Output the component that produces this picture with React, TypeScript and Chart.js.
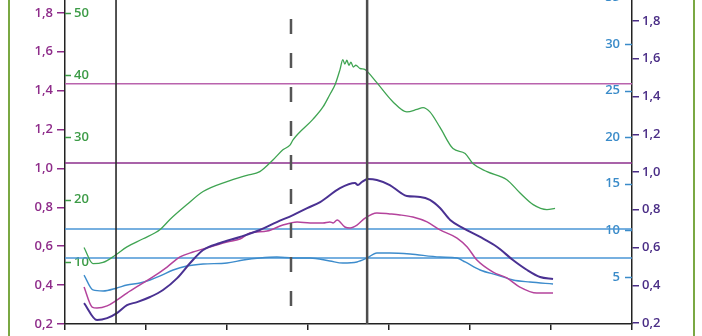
import { useEffect, useRef } from 'react';
import { Chart, registerables } from 'chart.js';
Chart.register(...registerables);

// ---- data ----
const xTicks = [0, 2, 4, 6, 8, 10, 12, 14];
const leftTicks = [0.2, 0.4, 0.6, 0.8, 1.0, 1.2, 1.4, 1.6, 1.8];
const greenTicks = [10, 20, 30, 40, 50];
const blueTicks = [5, 10, 15, 20, 25, 30, 35];
const rightTicks = [0.2, 0.4, 0.6, 0.8, 1.0, 1.2, 1.4, 1.6, 1.8];

// green series (green axis, 0..50)
const greenSeries: [number, number][] = [
  [0.47, 12.3], [0.69, 9.7], [0.94, 9.9], [1.23, 11.0], [1.53, 12.4], [1.93, 13.7],
  [2.35, 15.2], [2.59, 16.8], [3.01, 19.2], [3.41, 21.3], [4.0, 22.9], [4.49, 23.9],
  [4.81, 24.5], [5.14, 26.4], [5.38, 28.0], [5.56, 28.8], [5.63, 29.6], [6.12, 32.9],
  [6.37, 34.9], [6.54, 36.9], [6.67, 38.5], [6.79, 40.9], [6.86, 42.5], [6.91, 41.8],
  [6.96, 42.4], [7.01, 41.6], [7.06, 42.1], [7.12, 41.3], [7.18, 41.6], [7.28, 41.1],
  [7.41, 40.9], [7.48, 40.5], [7.7, 38.8], [8.1, 35.7], [8.44, 34.1], [8.69, 34.5],
  [8.84, 34.8], [9.01, 34.1], [9.26, 31.6], [9.58, 28.2], [9.88, 27.4], [10.07, 25.8],
  [10.42, 24.5], [10.91, 23.2], [11.23, 21.1], [11.56, 19.2], [11.9, 18.4], [12.1, 18.6],
];

// indigo series (right purple axis)
const indigoSeries: [number, number][] = [
  [0.47, 0.306], [0.79, 0.216], [1.04, 0.226], [1.28, 0.253], [1.53, 0.295], [1.78, 0.311],
  [2.1, 0.338], [2.42, 0.375], [2.77, 0.438], [3.09, 0.518], [3.41, 0.587], [3.83, 0.624],
  [4.32, 0.656], [4.81, 0.693], [5.23, 0.735], [5.63, 0.772], [5.98, 0.809], [6.3, 0.841],
  [6.79, 0.915], [7.16, 0.942], [7.23, 0.931], [7.33, 0.947], [7.48, 0.963], [7.7, 0.958],
  [8.02, 0.931], [8.3, 0.888], [8.44, 0.873], [8.77, 0.868], [9.01, 0.852], [9.26, 0.809],
  [9.51, 0.746], [9.83, 0.703], [10.25, 0.656], [10.67, 0.603], [11.06, 0.534],
  [11.41, 0.481], [11.73, 0.444], [12.05, 0.433],
];

// magenta series (left purple axis)
const magentaSeries: [number, number][] = [
  [0.47, 0.39], [0.67, 0.287], [0.79, 0.282], [1.04, 0.293], [1.28, 0.323], [1.53, 0.359],
  [1.85, 0.401], [2.17, 0.442], [2.52, 0.493], [2.84, 0.545], [3.16, 0.57], [3.58, 0.596],
  [4.0, 0.622], [4.32, 0.637], [4.57, 0.668], [4.99, 0.678], [5.38, 0.709], [5.73, 0.725],
  [6.05, 0.72], [6.37, 0.72], [6.54, 0.725], [6.62, 0.72], [6.72, 0.735], [6.91, 0.699],
  [7.04, 0.694], [7.21, 0.709], [7.41, 0.745], [7.7, 0.771], [8.02, 0.766], [8.27, 0.761],
  [8.59, 0.75], [8.94, 0.725], [9.26, 0.684], [9.68, 0.642], [9.93, 0.596], [10.17, 0.529],
  [10.57, 0.467], [10.91, 0.437], [11.23, 0.39], [11.65, 0.359], [12.05, 0.359],
];

// blue series (blue axis)
const blueSeries: [number, number][] = [
  [0.47, 5.21], [0.69, 3.61], [0.94, 3.5], [1.28, 3.82], [1.53, 4.14], [1.85, 4.36],
  [2.1, 4.68], [2.35, 5.11], [2.67, 5.75], [3.01, 6.18], [3.41, 6.39], [4.0, 6.5],
  [4.4, 6.82], [4.81, 7.04], [5.23, 7.14], [5.63, 7.04], [6.05, 7.04], [6.54, 6.72],
  [6.86, 6.5], [7.21, 6.61], [7.46, 7.04], [7.7, 7.58], [8.02, 7.58], [8.52, 7.47],
  [9.26, 7.14], [9.68, 7.04], [9.88, 6.61], [10.25, 5.75], [10.67, 5.21], [11.06, 4.68],
  [11.48, 4.46], [12.05, 4.25],
];

// reference lines
const refMagentaHigh = 1.435; // left axis
const refPurpleMid = 1.028; // left axis
const refBlueHigh = 10.15; // blue axis
const refBlueLow = 7.04; // blue axis
const vLineSolidA = 1.26;
const vLineDashed = 5.58;
const vLineSolidB = 7.46;

// axis ranges (chart area runs above the visible page top)
const leftMin = 0.2, leftMax = 2.072;
const greenMin = 0, greenMax = 58.52;
const blueMin = -0.043, blueMax = 39.01;
const rightMin = 0.195, rightMax = 2.123;

const C_LEFT = '#8e2c8a';
const C_RIGHT = '#4a2d86';
const C_GREEN = '#3c9b46';
const C_BLUE = '#3a8bc9';
const FONT = { family: "'Open Sans', sans-serif", size: 13, weight: 600 as any };

const pts = (s: [number, number][]) => s.map(([x, y]) => ({ x, y }));
const fmt = (v: number) => Number(v).toFixed(1).replace('.', ',');

export default function App() {
  const ref = useRef<HTMLCanvasElement>(null);
  useEffect(() => {
    const canvas = ref.current!;
    const innerTicks = {
      id: 'innerTicks',
      afterDraw(chart: any) {
        const c = chart.ctx;
        const a = chart.chartArea;
        const g = chart.scales.yG;
        const b = chart.scales.yB;
        c.save();
        c.lineWidth = 1.5;
        c.strokeStyle = C_GREEN;
        greenTicks.forEach((v) => {
          const y = Math.round(g.getPixelForValue(v)) + 0.5;
          c.beginPath();
          c.moveTo(a.left, y);
          c.lineTo(a.left + 6, y);
          c.stroke();
        });
        c.strokeStyle = C_BLUE;
        blueTicks.forEach((v) => {
          const y = Math.round(b.getPixelForValue(v)) + 0.5;
          c.beginPath();
          c.moveTo(a.right - 7, y);
          c.lineTo(a.right, y);
          c.stroke();
        });
        c.restore();
      },
    };
    const setTicks = (arr: number[]) => (s: any) => {
      s.ticks = arr.map((v) => ({ value: v }));
    };
    const chart = new Chart(canvas, {
      type: 'line',
      data: {
        datasets: [
          { data: [{ x: vLineSolidA, y: leftMax }, { x: vLineSolidA, y: leftMin }], yAxisID: 'yL', borderColor: '#2a2a2a', borderWidth: 1.6, tension: 0, order: 1 },
          { data: [{ x: vLineDashed, y: leftMax }, { x: vLineDashed, y: leftMin }], yAxisID: 'yL', borderColor: '#555', borderWidth: 2.5, borderDash: [15, 19], borderDashOffset: 9, tension: 0, order: 1 },
          { data: [{ x: vLineSolidB, y: leftMax }, { x: vLineSolidB, y: leftMin }], yAxisID: 'yL', borderColor: '#4d4d4d', borderWidth: 2.5, tension: 0, order: 1 },
          { data: pts(greenSeries), yAxisID: 'yG', borderColor: '#3fa452', borderWidth: 1.3, cubicInterpolationMode: 'monotone', order: 2 },
          { data: pts(indigoSeries), yAxisID: 'yR', borderColor: '#4a3192', borderWidth: 2, cubicInterpolationMode: 'monotone', order: 2 },
          { data: pts(magentaSeries), yAxisID: 'yL', borderColor: '#b4439c', borderWidth: 1.5, cubicInterpolationMode: 'monotone', order: 2 },
          { data: pts(blueSeries), yAxisID: 'yB', borderColor: '#3d8ccc', borderWidth: 1.4, cubicInterpolationMode: 'monotone', order: 2 },
          { data: [{ x: 0, y: refMagentaHigh }, { x: 14, y: refMagentaHigh }], yAxisID: 'yL', borderColor: '#b963ad', borderWidth: 1.5, tension: 0, order: 3 },
          { data: [{ x: 0, y: refPurpleMid }, { x: 14, y: refPurpleMid }], yAxisID: 'yL', borderColor: '#8c2f8c', borderWidth: 1.5, tension: 0, order: 3 },
          { data: [{ x: 0, y: refBlueHigh }, { x: 14, y: refBlueHigh }], yAxisID: 'yB', borderColor: '#4a96d6', borderWidth: 1.5, tension: 0, order: 3 },
          { data: [{ x: 0, y: refBlueLow }, { x: 14, y: refBlueLow }], yAxisID: 'yB', borderColor: '#4a96d6', borderWidth: 1.5, tension: 0, order: 3 },
        ] as any,
      },
      options: {
        animation: false,
        responsive: false,
        devicePixelRatio: 1,
        layout: { padding: { top: 20, left: 0, right: 0, bottom: 0 } },
        plugins: { legend: { display: false }, tooltip: { enabled: false } },
        elements: { point: { radius: 0 } },
        scales: {
          x: {
            type: 'linear', position: 'bottom', min: 0, max: 14,
            afterBuildTicks: setTicks(xTicks),
            afterFit: (s: any) => { s.height = 56; },
            grid: { display: true, drawOnChartArea: false, drawTicks: true, tickLength: 6, color: '#222', lineWidth: 1.5 },
            border: { display: true, color: '#222', width: 1.5 },
            ticks: { padding: 16, color: '#333', font: FONT, autoSkip: false, maxRotation: 0 },
          },
          yL: {
            type: 'linear', position: 'left', weight: 1, min: leftMin, max: leftMax,
            afterBuildTicks: setTicks(leftTicks),
            afterFit: (s: any) => { s.width = 65; },
            grid: { display: true, drawOnChartArea: false, drawTicks: true, tickLength: 8, color: C_LEFT, lineWidth: 1.5 },
            border: { display: true, color: '#222', width: 1.5 },
            ticks: { padding: 4, color: C_LEFT, font: FONT, autoSkip: false, callback: (v: any) => fmt(v) },
          },
          yG: {
            type: 'linear', position: 'left', weight: 0, min: greenMin, max: greenMax,
            afterBuildTicks: setTicks(greenTicks),
            afterFit: (s: any) => { s.width = 0; },
            grid: { display: false, drawTicks: false },
            border: { display: false },
            ticks: { mirror: true, padding: 9, color: C_GREEN, font: FONT, autoSkip: false },
          },
          yB: {
            type: 'linear', position: 'right', weight: 0, min: blueMin, max: blueMax,
            afterBuildTicks: setTicks(blueTicks),
            afterFit: (s: any) => { s.width = 0; },
            grid: { display: false, drawTicks: false },
            border: { display: false },
            ticks: { mirror: true, padding: -12, color: C_BLUE, font: FONT, autoSkip: false },
          },
          yR: {
            type: 'linear', position: 'right', weight: 1, min: rightMin, max: rightMax,
            afterBuildTicks: setTicks(rightTicks),
            afterFit: (s: any) => { s.width = 70; },
            grid: { display: true, drawOnChartArea: false, drawTicks: true, tickLength: 7, color: C_RIGHT, lineWidth: 1.5 },
            border: { display: true, color: '#222', width: 1.5 },
            ticks: { padding: 3, color: C_RIGHT, font: FONT, autoSkip: false, callback: (v: any) => fmt(v) },
          },
        },
      } as any,
      plugins: [innerTicks],
    });
    return () => chart.destroy();
  }, []);
  return (
    <div style={{ position: 'fixed', left: 0, top: 0, width: 702, height: 336, overflow: 'hidden', background: '#fff' }}>
      <div style={{ position: 'absolute', left: 8, top: 0, width: 683, height: 336, borderLeft: '2px solid #7aa843', borderRight: '2px solid #7aa843' }} />
      <canvas ref={ref} width={702} height={440} style={{ position: 'absolute', left: 0, top: -60, width: 702, height: 440 }} />
    </div>
  );
}
